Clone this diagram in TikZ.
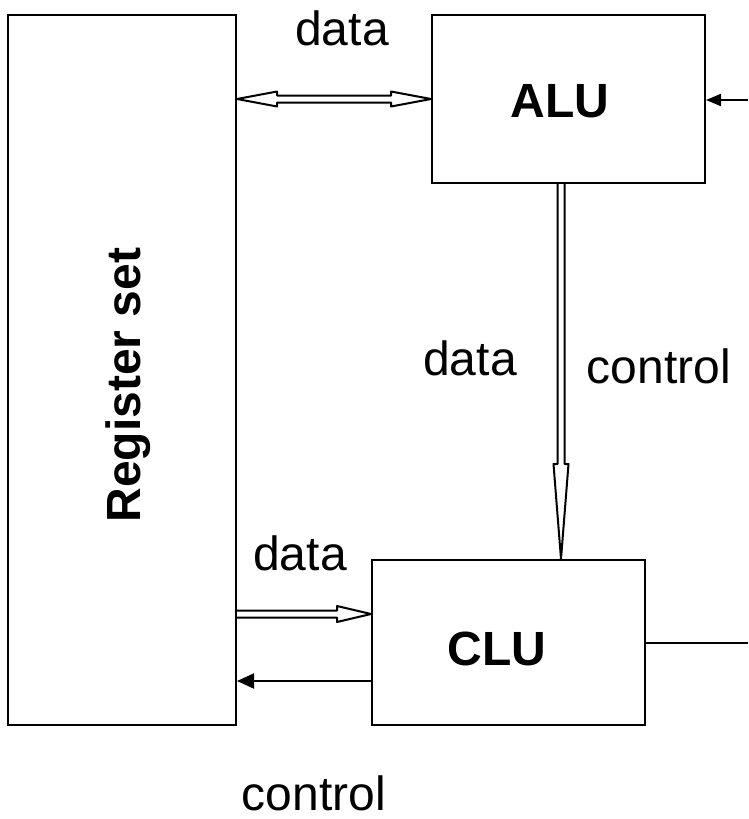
\documentclass[tikz,border=0pt]{standalone}
\usepackage{fontspec}
\setmainfont{Liberation Sans}
\usetikzlibrary{arrows.meta,calc}
\tikzset{
  box/.style={draw, line width=2pt, inner sep=0pt},
  lbl/.style={anchor=base, inner sep=0pt, font=\fontsize{48}{56}\selectfont},
  blbl/.style={anchor=base, inner sep=0pt, font=\fontsize{48}{56}\selectfont\bfseries},
  hollow/.style={draw, line width=2pt, line join=round, fill=white},
  conn/.style={draw, line width=2pt},
  bigtip/.style={-{Triangle[length=17pt,width=15pt]}},
  smalltip/.style={-{Triangle[length=15pt,width=12pt]}},
}
\begin{document}
\begin{tikzpicture}[x=1pt,y=-1pt]
\useasboundingbox (0,0) rectangle (748,819);
% boxes
\node[box, minimum width=228pt, minimum height=710pt] (reg) at (122,370) {};
\node[box, minimum width=273pt, minimum height=168pt] (alu) at (568.5,99) {};
\node[box, minimum width=273pt, minimum height=165pt] (clu) at (508.5,642.5) {};
% box labels
\node[blbl, rotate=90] (reglbl) at (140,385) {Register set};
\node[blbl] (alulbl) at (560,117) {ALU};
\node[blbl] (clulbl) at (497,665) {CLU};
% other labels
\node[lbl] (d1) at (342,45) {data};
\node[lbl] (d2) at (470,375) {data};
\node[lbl] (c1) at (659,383) {control};
\node[lbl] (d3) at (300,570) {data};
\node[lbl] (c2) at (314,810) {control};
% double hollow arrow register <-> ALU
\coordinate (a1) at (reg.east |- alu.west);
\coordinate (a2) at (alu.west);
\draw[hollow] (a1) -- ++(40,-7.5) -- ++(0,4) -- ($(a2)+(-40,-3.5)$) -- ++(0,-4) -- (a2)
  -- ++(-40,7.5) -- ++(0,-4) -- ($(a1)+(40,3.5)$) -- ++(0,4) -- cycle;
% hollow arrow ALU -> CLU
\coordinate (v1) at (alu.south -| 561,0);
\coordinate (v2) at (clu.north -| 561,0);
\draw[hollow] ($(v1)+(-3.5,0)$) -- ($(v2)+(-3.5,-95)$) -- ($(v2)+(-7.5,-95)$) -- (v2)
  -- ($(v2)+(7.5,-95)$) -- ($(v2)+(3.5,-95)$) -- ($(v1)+(3.5,0)$);
% hollow arrow register -> CLU
\coordinate (b1) at (reg.east |- 0,614);
\coordinate (b2) at (clu.west |- 0,614);
\draw[hollow] ($(b1)+(0,-3.5)$) -- ($(b2)+(-34,-3.5)$) -- ($(b2)+(-34,-8)$) -- (b2)
  -- ($(b2)+(-34,8)$) -- ($(b2)+(-34,3.5)$) -- ($(b1)+(0,3.5)$);
% CLU -> register control
\draw[conn, bigtip] (clu.west |- 0,681) -- (reg.east |- 0,681);
% external arrow into ALU
\coordinate (rin) at (748,100);
\draw[conn, smalltip] (rin) -- (alu.east |- rin);
% CLU output line
\coordinate (rout) at (748,643);
\draw[conn] (clu.east |- rout) -- (rout);
\end{tikzpicture}
\end{document}
